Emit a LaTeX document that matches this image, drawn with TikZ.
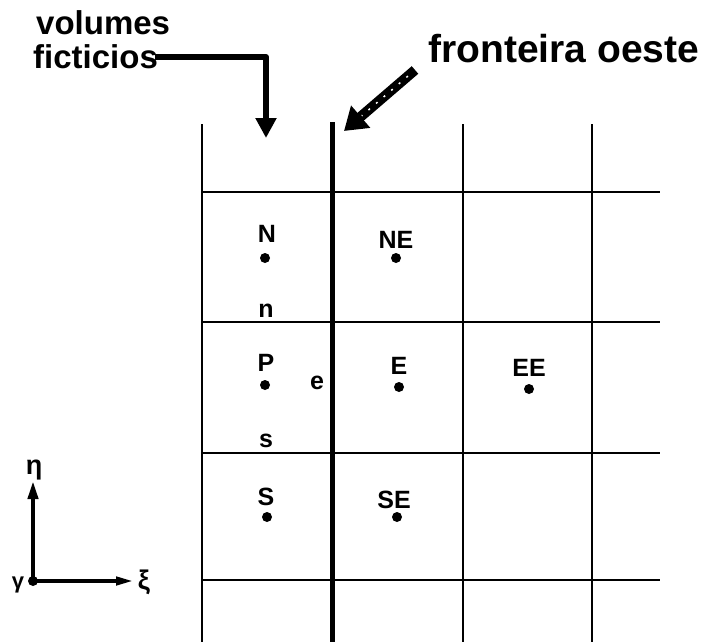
\documentclass[tikz,border=0pt]{standalone}
\usepackage{fontspec}
\setmainfont{Liberation Sans}
\usetikzlibrary{arrows.meta,calc}
\begin{document}
\begin{tikzpicture}[x=1pt,y=-1pt,
  thin grid/.style={line width=1.6pt},
  wall/.style={line width=5pt},
  lbl/.style={font=\fontsize{25}{25}\selectfont\bfseries, inner sep=0pt},
  big/.style={font=\fontsize{39}{39}\selectfont\bfseries, inner sep=0pt, anchor=base west},
  greek/.style={font=\fontsize{27}{27}\selectfont\bfseries, inner sep=0pt},
  pt/.style={circle, fill=black, inner sep=0pt, minimum size=10pt},
  fat arrow/.style={line width=6pt, -{Triangle[width=20pt,length=20pt]}}]
\useasboundingbox (0,0) rectangle (701,642);
% grid
\foreach \x in {202,463,592} \draw[thin grid] (\x,124) -- (\x,642);
\draw[wall] (332,122) -- (332,642);
\foreach \y in {192,322,453,580} \draw[thin grid] (202,\y) -- (660,\y);
% points
\node[pt] (N) at (265,258) {};
\node[pt] (NE) at (396,258) {};
\node[pt] (P) at (265,385) {};
\node[pt] (E) at (399,387) {};
\node[pt] (EE) at (529,389) {};
\node[pt] (S) at (267,517) {};
\node[pt] (SE) at (397,517) {};
\node[lbl] (lN) at (267,234) {N};
\node[lbl] (lNE) at (396,240) {NE};
\node[lbl] (ln) at (266,311) {n};
\node[lbl] (lP) at (266,363) {P};
\node[lbl] (le) at (317,383) {e};
\node[lbl] (lE) at (399,366) {E};
\node[lbl] (lEE) at (529,368) {EE};
\node[lbl] (ls) at (266,441) {s};
\node[lbl] (lS) at (266,497) {S};
\node[lbl] (lSE) at (394,500) {SE};
% titles
\node[big, font=\fontsize{33}{33}\selectfont\bfseries] (vol) at (36,35) {volumes};
\node[big, font=\fontsize{33}{33}\selectfont\bfseries] (fic) at (33,68) {ficticios};
\node[big] (fro) at (428,63) {fronteira oeste};
% arrows
\coordinate (va) at (155,57);
\coordinate (vb) at (266,57);
\coordinate (vc) at (266,138);
\draw[fat arrow, line join=round] (va) -- (vb) -- (vc);
\coordinate (fa) at (415,70);
\coordinate (fb) at (344,131);
\draw[line width=10pt, -{Triangle[width=28pt,length=22pt]}] (fa) -- (fb);
\draw[white, line width=1.5pt, dash pattern=on 2pt off 8pt] ($(fa)!0.1!(fb)$) -- ($(fa)!0.75!(fb)$);
% axes
\coordinate (O) at (33,581);
\coordinate (Ot) at (33,481);
\coordinate (Or) at (134,581);
\draw[line width=4pt, -{Triangle[width=10pt,length=18pt]}] (O) -- (Ot);
\draw[line width=4pt, -{Triangle[width=8pt,length=18pt]}] (O) -- (Or);
\fill (O) circle (5pt);
\node[greek] (eta) at (34,470) {η};
\node[greek] (xi) at (144,582) {ξ};
\node[greek, font=\fontsize{22}{22}\selectfont\bfseries] (gam) at (18,585) {γ};
\end{tikzpicture}
\end{document}
